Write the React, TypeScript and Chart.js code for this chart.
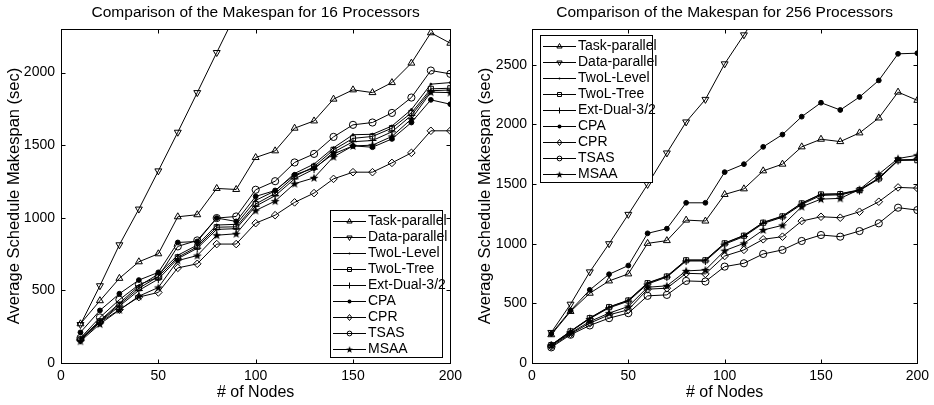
import React, { useEffect, useRef } from "react";
import { Chart, registerables } from "chart.js";

Chart.register(...registerables);

// ---------- data ----------
const nodes = [10, 20, 30, 40, 50, 60, 70, 80, 90, 100, 110, 120, 130, 140, 150, 160, 170, 180, 190, 200];
const xTicks = [0, 50, 100, 150, 200];
const yTicks16 = [0, 500, 1000, 1500, 2000];
const yTicks256 = [0, 500, 1000, 1500, 2000, 2500];

const seriesNames = ["Task-parallel", "Data-parallel", "TwoL-Level", "TwoL-Tree", "Ext-Dual-3/2", "CPA", "CPR", "TSAS", "MSAA"];

// 16 processors
const task16 = [270, 429, 583, 697, 752, 1007, 1021, 1202, 1195, 1415, 1461, 1617, 1667, 1817, 1881, 1862, 1931, 2065, 2274, 2202];
const data16 = [265, 532, 814, 1060, 1323, 1589, 1862, 2138, 2410, 2690];
const level16 = [168, 292, 412, 530, 612, 742, 812, 950, 955, 1120, 1185, 1305, 1370, 1482, 1572, 1575, 1632, 1745, 1920, 1931];
const tree16 = [162, 287, 402, 515, 595, 728, 800, 935, 938, 1095, 1168, 1285, 1352, 1468, 1547, 1560, 1617, 1722, 1888, 1892];
const ext16 = [157, 281, 392, 500, 578, 718, 790, 920, 925, 1080, 1152, 1268, 1335, 1452, 1524, 1532, 1592, 1705, 1875, 1880];
const cpa16 = [211, 362, 477, 571, 624, 830, 837, 998, 975, 1147, 1188, 1296, 1342, 1440, 1495, 1486, 1543, 1656, 1812, 1782];
const cpr16 = [160, 280, 367, 454, 486, 655, 683, 819, 819, 963, 1018, 1106, 1170, 1268, 1314, 1314, 1378, 1447, 1599, 1599];
const tsas16 = [172, 314, 436, 539, 592, 803, 844, 998, 1009, 1193, 1252, 1381, 1440, 1557, 1640, 1656, 1722, 1828, 2014, 1991];
const msaa16 = [150, 268, 365, 460, 520, 705, 740, 880, 890, 1050, 1115, 1235, 1275, 1420, 1495, 1500, 1560, 1680, 1865, 1862];

// 256 processors
const task256 = [237, 432, 585, 688, 747, 1003, 1026, 1198, 1190, 1413, 1460, 1611, 1667, 1812, 1876, 1856, 1929, 2054, 2271, 2202];
const data256 = [256, 493, 764, 1000, 1246, 1497, 1761, 2021, 2210, 2508, 2751, 3000];
const level256 = [152, 267, 378, 470, 527, 672, 728, 864, 864, 1006, 1070, 1179, 1232, 1341, 1416, 1419, 1452, 1550, 1703, 1703];
const tree256 = [150, 265, 376, 468, 524, 669, 725, 861, 861, 1003, 1067, 1176, 1229, 1338, 1413, 1416, 1449, 1547, 1700, 1700];
const ext256 = [148, 262, 372, 462, 518, 662, 720, 855, 855, 996, 1060, 1170, 1222, 1330, 1405, 1410, 1445, 1543, 1697, 1710];
const cpa256 = [245, 440, 613, 744, 817, 1087, 1126, 1343, 1343, 1600, 1667, 1812, 1915, 2065, 2182, 2121, 2230, 2369, 2592, 2597];
const cpr256 = [140, 245, 334, 404, 446, 619, 627, 752, 747, 897, 948, 1037, 1059, 1190, 1226, 1218, 1268, 1352, 1472, 1466];
const tsas256 = [131, 237, 315, 376, 418, 563, 571, 688, 683, 808, 836, 914, 948, 1023, 1073, 1059, 1106, 1171, 1302, 1282];
const msaa256 = [150, 251, 348, 418, 474, 635, 647, 772, 780, 942, 1003, 1115, 1154, 1310, 1374, 1380, 1455, 1583, 1714, 1742];

// ---------- styles ----------
const FONT = '"Liberation Sans", Arial, Helvetica, sans-serif';

type Marker = "triUp" | "triDown" | "dot" | "square" | "plus" | "fdot" | "diamond" | "circle" | "star";
const markers: Marker[] = ["triUp", "triDown", "dot", "square", "plus", "fdot", "diamond", "circle", "star"];

function makeStar(R: number): HTMLCanvasElement {
  const size = Math.ceil(R * 2 + 2);
  const c = document.createElement("canvas");
  c.width = size;
  c.height = size;
  const g = c.getContext("2d")!;
  g.fillStyle = "#000";
  g.beginPath();
  const cx = size / 2, cy = size / 2 + 0.4, r = R * 0.42;
  for (let i = 0; i < 10; i++) {
    const a = -Math.PI / 2 + (i * Math.PI) / 5;
    const rr = i % 2 === 0 ? R : r;
    const px = cx + rr * Math.cos(a), py = cy + rr * Math.sin(a);
    if (i === 0) g.moveTo(px, py);
    else g.lineTo(px, py);
  }
  g.closePath();
  g.fill();
  return c;
}

function pointOpts(m: Marker, star: HTMLCanvasElement) {
  const clear = "rgba(0,0,0,0)";
  switch (m) {
    case "triUp": return { pointStyle: "triangle", pointRadius: 4, pointRotation: 0, pointBackgroundColor: clear };
    case "triDown": return { pointStyle: "triangle", pointRadius: 4, pointRotation: 180, pointBackgroundColor: clear };
    case "dot": return { pointStyle: "circle", pointRadius: 1, pointRotation: 0, pointBackgroundColor: "#000" };
    case "square": return { pointStyle: "rect", pointRadius: 3.6, pointRotation: 0, pointBackgroundColor: clear };
    case "plus": return { pointStyle: "cross", pointRadius: 4, pointRotation: 0, pointBackgroundColor: clear };
    case "fdot": return { pointStyle: "circle", pointRadius: 2.4, pointRotation: 0, pointBackgroundColor: "#000" };
    case "diamond": return { pointStyle: "rectRot", pointRadius: 3.8, pointRotation: 0, pointBackgroundColor: clear };
    case "circle": return { pointStyle: "circle", pointRadius: 3.6, pointRotation: 0, pointBackgroundColor: clear };
    case "star": return { pointStyle: star, pointRadius: 4, pointRotation: 0, pointBackgroundColor: "#000" };
  }
}

function drawLegendMarker(ctx: CanvasRenderingContext2D, m: Marker, x: number, y: number, star: HTMLCanvasElement) {
  ctx.save();
  ctx.strokeStyle = "#000";
  ctx.fillStyle = "#000";
  ctx.lineWidth = 1;
  ctx.beginPath();
  const r = 3;
  switch (m) {
    case "triUp":
      ctx.moveTo(x, y - r); ctx.lineTo(x + r * 0.87, y + r * 0.5); ctx.lineTo(x - r * 0.87, y + r * 0.5); ctx.closePath(); ctx.stroke(); break;
    case "triDown":
      ctx.moveTo(x, y + r); ctx.lineTo(x + r * 0.87, y - r * 0.5); ctx.lineTo(x - r * 0.87, y - r * 0.5); ctx.closePath(); ctx.stroke(); break;
    case "dot":
      ctx.arc(x, y, 0.9, 0, Math.PI * 2); ctx.fill(); break;
    case "square":
      ctx.rect(x - 2, y - 2, 4, 4); ctx.stroke(); break;
    case "plus":
      ctx.moveTo(x - 3, y); ctx.lineTo(x + 3, y); ctx.moveTo(x, y - 3); ctx.lineTo(x, y + 3); ctx.stroke(); break;
    case "fdot":
      ctx.arc(x, y, 2, 0, Math.PI * 2); ctx.fill(); break;
    case "diamond":
      ctx.moveTo(x, y - 3); ctx.lineTo(x + 2.4, y); ctx.lineTo(x, y + 3); ctx.lineTo(x - 2.4, y); ctx.closePath(); ctx.stroke(); break;
    case "circle":
      ctx.arc(x, y, 2.4, 0, Math.PI * 2); ctx.stroke(); break;
    case "star":
      ctx.drawImage(star, x - star.width * 0.4, y - star.height * 0.4, star.width * 0.8, star.height * 0.8); break;
  }
  ctx.restore();
}

type PanelProps = {
  title: string;
  yMax: number;
  yTicks: number[];
  series: number[][];
  yAxisWidth: number;
  padRight: number;
  yLabelPad: number;
  yTitlePad: number;
  legendCorner: "br" | "tl";
};

function Panel(p: PanelProps) {
  const ref = useRef<HTMLCanvasElement | null>(null);
  useEffect(() => {
    const canvas = ref.current;
    if (!canvas) return;
    const star = makeStar(4.6);
    const crisp = (v: number) => Math.round(v) + 0.5;

    const framePlugin = {
      id: "matlabFrame",
      afterDraw(chart: any) {
        const ctx: CanvasRenderingContext2D = chart.ctx;
        const { left, right, top, bottom } = chart.chartArea;
        const L = crisp(left), R = crisp(right), T = crisp(top), B = crisp(bottom);
        ctx.save();
        ctx.strokeStyle = "#000";
        ctx.lineWidth = 1;
        ctx.strokeRect(L, T, R - L, B - T);
        const tl = 4;
        ctx.beginPath();
        for (const v of p.yTicks) {
          const y = crisp(chart.scales.y.getPixelForValue(v));
          ctx.moveTo(L, y); ctx.lineTo(L + tl, y);
          ctx.moveTo(R, y); ctx.lineTo(R - tl, y);
        }
        for (const v of xTicks) {
          const x = crisp(chart.scales.x.getPixelForValue(v));
          ctx.moveTo(x, B); ctx.lineTo(x, B - tl);
          ctx.moveTo(x, T); ctx.lineTo(x, T + tl);
        }
        ctx.stroke();

        // title
        ctx.fillStyle = "#000";
        ctx.font = `15.5px ${FONT}`;
        ctx.textAlign = "center";
        ctx.textBaseline = "middle";
        ctx.fillText(p.title, (left + right) / 2, 13);

        // legend
        const w = 112, h = 147;
        const bx = p.legendCorner === "br" ? Math.round(right) - 8 - w : Math.round(left) + 8;
        const by = p.legendCorner === "br" ? Math.round(bottom) - 6 - h : Math.round(top) + 6;
        ctx.fillStyle = "#fff";
        ctx.fillRect(bx, by, w, h);
        ctx.font = `14px ${FONT}`;
        ctx.textAlign = "left";
        ctx.textBaseline = "middle";
        seriesNames.forEach((name, i) => {
          const cy = by + 10.5 + i * 16;
          ctx.strokeStyle = "#000";
          ctx.lineWidth = 1;
          ctx.beginPath();
          ctx.moveTo(bx + 3, Math.round(cy) + 0.5);
          ctx.lineTo(bx + 36, Math.round(cy) + 0.5);
          ctx.stroke();
          drawLegendMarker(ctx, markers[i], bx + 19.5, Math.round(cy) + 0.5, star);
          ctx.fillStyle = "#000";
          ctx.fillText(name, bx + 38, cy + 0.5);
        });
        ctx.strokeStyle = "#000";
        ctx.lineWidth = 1;
        ctx.strokeRect(bx + 0.5, by + 0.5, w, h);
        ctx.restore();
      },
    };

    const datasets = seriesNames.map((name, i) => ({
      label: name,
      data: p.series[i].map((v, j) => ({ x: nodes[j], y: v })),
      borderColor: "#000",
      borderWidth: 1,
      pointBorderColor: "#000",
      pointBorderWidth: 1,
      tension: 0,
      fill: false,
      ...pointOpts(markers[i], star),
    }));

    const chart = new Chart(canvas, {
      type: "line",
      data: { datasets: datasets as any },
      options: {
        animation: false,
        responsive: false,
        devicePixelRatio: 1,
        events: [],
        layout: { padding: { left: 0, right: p.padRight, top: 29, bottom: 0 } },
        plugins: { legend: { display: false }, title: { display: false }, tooltip: { enabled: false } },
        scales: {
          x: {
            type: "linear",
            min: 0,
            max: 200,
            grid: { display: false, drawTicks: false },
            border: { display: false },
            ticks: { padding: 5, color: "#000", font: { size: 14, family: FONT }, maxRotation: 0, autoSkip: false, callback: (v: any) => String(v) },
            afterBuildTicks: (s: any) => { s.ticks = xTicks.map((v) => ({ value: v })); },
            afterFit: (s: any) => { s.height = 42; },
            title: { display: true, text: "# of Nodes", color: "#000", font: { size: 16, family: FONT }, padding: { top: 0, bottom: 3 } },
          },
          y: {
            type: "linear",
            min: 0,
            max: p.yMax,
            grid: { display: false, drawTicks: false },
            border: { display: false },
            ticks: { padding: p.yLabelPad, color: "#000", font: { size: 14, family: FONT }, autoSkip: false, callback: (v: any) => String(v) },
            afterBuildTicks: (s: any) => { s.ticks = p.yTicks.map((v) => ({ value: v })); },
            afterFit: (s: any) => { s.width = p.yAxisWidth; },
            title: { display: true, text: "Average Schedule Makespan (sec)", color: "#000", font: { size: 16.5, family: FONT }, padding: { top: p.yTitlePad, bottom: 0 } },
          },
        },
      } as any,
      plugins: [framePlugin],
    });
    return () => chart.destroy();
  }, []);
  return <canvas ref={ref} width={467} height={405} style={{ width: 467, height: 405, display: "block" }} />;
}

export default function App() {
  return (
    <div style={{ position: "absolute", left: 0, top: 0, width: 934, height: 405, background: "#fff", display: "flex" }}>
      <Panel
        title="Comparison of the Makespan for 16 Processors"
        yMax={2300}
        yTicks={yTicks16}
        series={[task16, data16, level16, tree16, ext16, cpa16, cpr16, tsas16, msaa16]}
        yAxisWidth={61}
        padRight={15}
        yLabelPad={6}
        yTitlePad={5}
        legendCorner="br"
      />
      <Panel
        title="Comparison of the Makespan for 256 Processors"
        yMax={2800}
        yTicks={yTicks256}
        series={[task256, data256, level256, tree256, ext256, cpa256, cpr256, tsas256, msaa256]}
        yAxisWidth={65}
        padRight={12}
        yLabelPad={5}
        yTitlePad={9}
        legendCorner="tl"
      />
    </div>
  );
}
